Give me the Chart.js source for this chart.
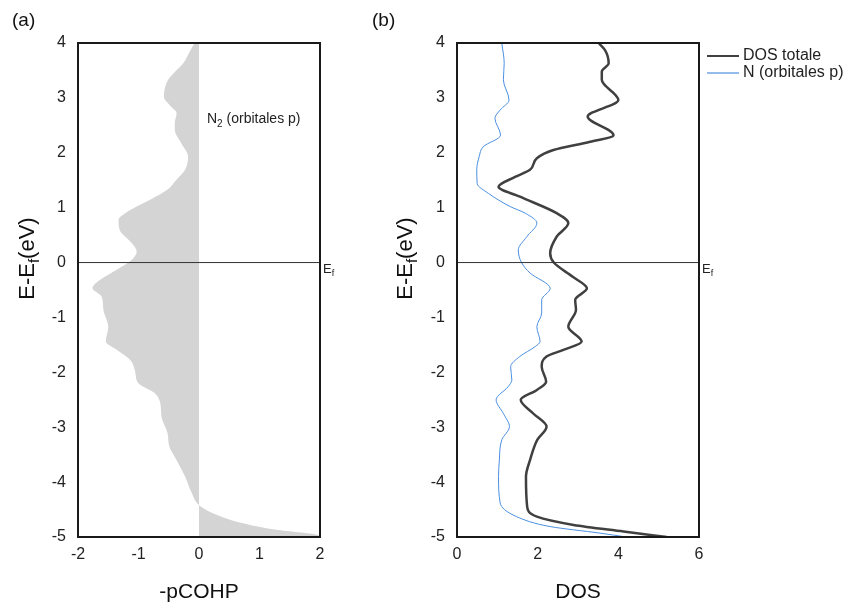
<!DOCTYPE html>
<html><head><meta charset="utf-8">
<script src="https://cdn.jsdelivr.net/npm/chart.js@4/dist/chart.umd.min.js"></script>
<style>
body{margin:0;background:#fff;width:858px;height:605px;overflow:hidden;position:relative}
canvas{position:absolute;left:0;top:0}
</style></head><body>
<canvas id="ca" width="858" height="605"></canvas>
<canvas id="cb" width="858" height="605"></canvas>
<script>
// ---- Data ----
const energyTicks = [4, 3, 2, 1, 0, -1, -2, -3, -4, -5];
const cohpEnergy = [4, 3.85, 3.63, 3.45, 3.33, 3.15, 3.02, 2.85, 2.72, 2.55, 2.42, 2.17, 1.93, 1.69, 1.5, 1.32, 1.15, 1.02, 0.9, 0.78, 0.59, 0.45, 0.35, 0.2, 0.05, -0.13, -0.32, -0.47, -0.62, -0.86, -1.17, -1.44, -1.59, -1.77, -1.96, -2.2, -2.38, -2.56, -2.81, -3.11, -3.35, -3.6, -3.9, -4.2, -4.42, -4.57, -4.75, -4.87, -4.96, -5];
const cohpValues = [-0.07, -0.15, -0.26, -0.42, -0.51, -0.57, -0.58, -0.47, -0.37, -0.40, -0.40, -0.29, -0.18, -0.23, -0.38, -0.53, -0.80, -1.03, -1.22, -1.33, -1.31, -1.20, -1.11, -1.03, -1.11, -1.36, -1.64, -1.76, -1.61, -1.58, -1.50, -1.54, -1.36, -1.14, -1.06, -1.00, -0.73, -0.64, -0.62, -0.52, -0.49, -0.37, -0.23, -0.12, 0.0, 0.24, 0.73, 1.28, 1.95, 2.0];
const dosTotEnergy = [4, 3.87, 3.63, 3.48, 3.33, 2.96, 2.66, 2.32, 2.2, 2.05, 1.9, 1.69, 1.56, 1.38, 1.2, 0.9, 0.72, 0.47, 0.17, 0, -0.26, -0.47, -0.68, -0.86, -1.17, -1.44, -1.59, -1.71, -1.9, -2.17, -2.32, -2.5, -2.75, -2.99, -3.23, -3.6, -3.9, -4.45, -4.63, -4.78, -4.9, -5];
const dosTotValues = [3.51, 3.67, 3.76, 3.59, 3.59, 4.0, 3.24, 3.88, 3.3, 2.39, 1.98, 1.81, 1.44, 1.03, 1.56, 2.47, 2.76, 2.47, 2.31, 2.40, 2.87, 3.22, 2.93, 2.95, 2.76, 3.09, 2.64, 2.22, 2.10, 2.21, 1.98, 1.58, 1.89, 2.22, 1.99, 1.81, 1.71, 1.74, 1.98, 2.89, 4.13, 5.2];
const dosNEnergy = [4, 3.63, 3.33, 2.96, 2.78, 2.63, 2.32, 2.11, 1.93, 1.69, 1.44, 1.26, 1.02, 0.9, 0.72, 0.47, 0.23, 0, -0.19, -0.47, -0.68, -0.92, -1.17, -1.44, -1.53, -1.71, -1.9, -2.14, -2.26, -2.5, -2.75, -2.99, -3.23, -3.6, -3.9, -4.38, -4.63, -4.81, -4.93, -5];
const dosNValues = [1.11, 1.17, 1.15, 1.29, 1.07, 0.94, 1.08, 0.65, 0.55, 0.49, 0.50, 0.78, 1.32, 1.69, 1.98, 1.73, 1.52, 1.60, 1.81, 2.31, 2.10, 2.10, 1.98, 2.06, 1.94, 1.56, 1.33, 1.36, 1.27, 0.97, 1.15, 1.30, 1.11, 1.05, 1.03, 1.07, 1.48, 2.31, 3.55, 4.2];
const seriesNames = ['DOS totale', 'N (orbitales p)'];
const cohpLabel = ['N', '2', ' (orbitales p)'];

const pts = (es, vs) => es.map((e, i) => ({x: vs[i], y: e}));
const FONT = "'Liberation Sans', Arial, sans-serif";

function frame(chart, o) {
  const ctx = chart.ctx, a = chart.chartArea;
  const ys = chart.scales.y;
  ctx.save();
  // Fermi level line
  const y0 = ys.getPixelForValue(0);
  ctx.strokeStyle = '#333'; ctx.lineWidth = 1;
  ctx.beginPath(); ctx.moveTo(a.left, y0); ctx.lineTo(a.right, y0); ctx.stroke();
  // border
  ctx.strokeStyle = '#1a1a1a'; ctx.lineWidth = 2;
  ctx.strokeRect(a.left, a.top, a.right - a.left, a.bottom - a.top);
  // Ef label
  ctx.fillStyle = '#222'; ctx.textBaseline = 'alphabetic'; ctx.textAlign = 'left';
  ctx.font = '13px ' + FONT;
  ctx.fillText('E', a.right + 3, y0 + 10);
  const w = ctx.measureText('E').width;
  ctx.font = '9px ' + FONT;
  ctx.fillText('f', a.right + 3 + w, y0 + 13);
  // panel letter
  ctx.font = '19px ' + FONT; ctx.fillStyle = '#111';
  ctx.fillText(o.letter, o.letterX, 26);
  // x title
  ctx.font = '21px ' + FONT; ctx.textAlign = 'center';
  ctx.fillText(o.xTitle, (a.left + a.right) / 2, 598);
  // y title rotated with subscript
  ctx.translate(o.yTitleX, y0 - 4);
  ctx.rotate(-Math.PI / 2);
  ctx.textAlign = 'left';
  const big = '22px ' + FONT, small = '15px ' + FONT;
  ctx.font = big; const w1 = ctx.measureText('E-E').width, w3 = ctx.measureText('(eV)').width;
  ctx.font = small; const w2 = ctx.measureText('f').width;
  const tot = w1 + w2 + w3;
  let x = -tot / 2;
  ctx.font = big; ctx.fillText('E-E', x, 0); x += w1;
  ctx.font = small; ctx.fillText('f', x, 5); x += w2;
  ctx.font = big; ctx.fillText('(eV)', x, 0);
  ctx.restore();
}

const commonScales = (xmin, xmax, xstep) => ({
  x: {
    type: 'linear', min: xmin, max: xmax,
    ticks: {stepSize: xstep, padding: 8, color: '#222', font: {family: FONT, size: 16}},
    grid: {display: false, drawTicks: false}, border: {display: false},
    afterFit: s => { s.height = 30; }
  },
  y: {
    type: 'linear', min: -5, max: 4,
    afterBuildTicks: s => { s.ticks = energyTicks.map(v => ({value: v})); },
    ticks: {padding: 12, color: '#222', font: {family: FONT, size: 16}},
    grid: {display: false, drawTicks: false}, border: {display: false},
    afterFit: s => { s.width = 30; }
  }
});

new Chart(document.getElementById('ca'), {
  type: 'line',
  data: {datasets: [{
    data: pts(cohpEnergy, cohpValues),
    borderWidth: 0, borderColor: 'rgba(0,0,0,0)',
    backgroundColor: '#d4d4d4', fill: 'origin',
    pointRadius: 0, cubicInterpolationMode: 'monotone'
  }]},
  options: {
    indexAxis: 'y', responsive: false, animation: false,
    layout: {padding: {left: 48, right: 538, top: 43, bottom: 38}},
    plugins: {legend: {display: false}, tooltip: {enabled: false}},
    scales: commonScales(-2, 2, 1)
  },
  plugins: [{
    id: 'decoA',
    afterDraw(chart) {
      frame(chart, {letter: '(a)', letterX: 12, xTitle: '-pCOHP', yTitleX: 34});
      const ctx = chart.ctx;
      ctx.save();
      ctx.fillStyle = '#222'; ctx.textAlign = 'left';
      ctx.font = '14px ' + FONT;
      let x = 207;
      ctx.fillText(cohpLabel[0], x, 123); x += ctx.measureText(cohpLabel[0]).width;
      ctx.font = '10px ' + FONT;
      ctx.fillText(cohpLabel[1], x, 127); x += ctx.measureText(cohpLabel[1]).width;
      ctx.font = '14px ' + FONT;
      ctx.fillText(cohpLabel[2], x, 123);
      ctx.restore();
    }
  }]
});

new Chart(document.getElementById('cb'), {
  type: 'line',
  data: {datasets: [
    {label: seriesNames[0], data: pts(dosTotEnergy, dosTotValues), borderColor: '#404040', borderWidth: 2.5,
     pointRadius: 0, fill: false, cubicInterpolationMode: 'monotone'},
    {label: seriesNames[1], data: pts(dosNEnergy, dosNValues), borderColor: '#4a8fe0', borderWidth: 1,
     pointRadius: 0, fill: false, cubicInterpolationMode: 'monotone'}
  ]},
  options: {
    indexAxis: 'y', responsive: false, animation: false,
    layout: {padding: {left: 427, right: 159, top: 43, bottom: 38}},
    plugins: {legend: {display: false}, tooltip: {enabled: false}},
    scales: commonScales(0, 6, 2)
  },
  plugins: [{
    id: 'decoB',
    afterDraw(chart) {
      frame(chart, {letter: '(b)', letterX: 372, xTitle: 'DOS', yTitleX: 412});
      const ctx = chart.ctx;
      ctx.save();
      ctx.textBaseline = 'middle'; ctx.textAlign = 'left';
      ctx.font = '16px ' + FONT; ctx.fillStyle = '#222';
      chart.data.datasets.forEach((ds, i) => {
        const y = 56 + i * 17;
        ctx.strokeStyle = ds.borderColor; ctx.lineWidth = i === 0 ? 2 : 1.2;
        ctx.beginPath(); ctx.moveTo(707, y); ctx.lineTo(739, y); ctx.stroke();
        ctx.fillText(ds.label, 743, y);
      });
      ctx.restore();
    }
  }]
});
</script>
</body></html>
